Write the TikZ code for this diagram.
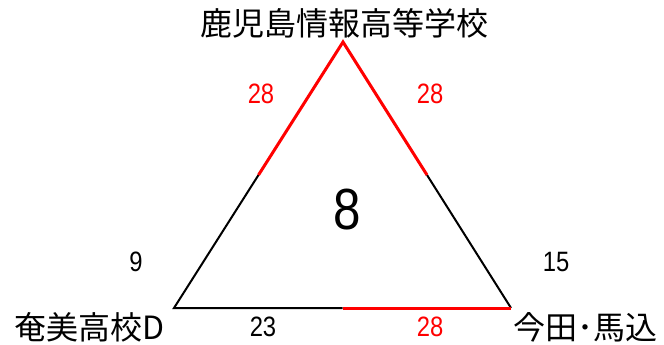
\documentclass[tikz,border=0pt]{standalone}
\usepackage{fontspec}
\usepackage{tikz}
\usetikzlibrary{positioning,calc}
\newfontfamily\jpfont{Noto Sans CJK JP}
\newfontfamily\numfont[FakeStretch=0.85]{Liberation Sans}
\definecolor{edgered}{RGB}{255,0,0}
\tikzset{
  school/.style={font=\jpfont\fontsize{32}{32}\selectfont,inner sep=0pt},
  score/.style={font=\numfont\fontsize{28}{28}\selectfont,inner sep=0pt},
  scorered/.style={score,text=edgered},
  blackedge/.style={draw=black,line width=2pt},
  rededge/.style={draw=edgered,line width=3pt}
}
\begin{document}
\begin{tikzpicture}[x=1pt,y=-1pt]
        \useasboundingbox (0,0) rectangle (664,345);
        \coordinate (top) at (343,42);
        \coordinate (bl) at (174,308);
        \coordinate (br) at (511,308);
        \coordinate (ml) at ($(top)!0.5!(bl)$);
        \coordinate (mr) at ($(top)!0.5!(br)$);
        \coordinate (mb) at ($(bl)!0.5!(br)$);
        % edges
        \draw[blackedge] (ml)--(bl)--(mb);
        \draw[blackedge] (mr)--(br);
        \draw[rededge,line join=miter] (ml)--(top)--(mr);
        \draw[rededge] (mb)--(br);
        % schools
        \node[school] (kago) at (344,23) {鹿児島情報高等学校};
        \node[school] (amami) at (90,327) {奄美高校D};
        \node[school] (imada) at (585,327) {今田･馬込};
        % scores
        \node[scorered] (sl) at (261,94) {28};
        \node[scorered] (sr) at (430,94) {28};
        \node[scorered] (sb) at (430,327) {28};
        \node[score] (sbl) at (263,327) {23};
        \node[score] (pl) at (136,262) {9};
        \node[score] (pr) at (556,262) {15};
        \node[font=\numfont\fontsize{58}{58}\selectfont,inner sep=0pt] (mid) at (347,210) {8};
      \end{tikzpicture}
\end{document}
